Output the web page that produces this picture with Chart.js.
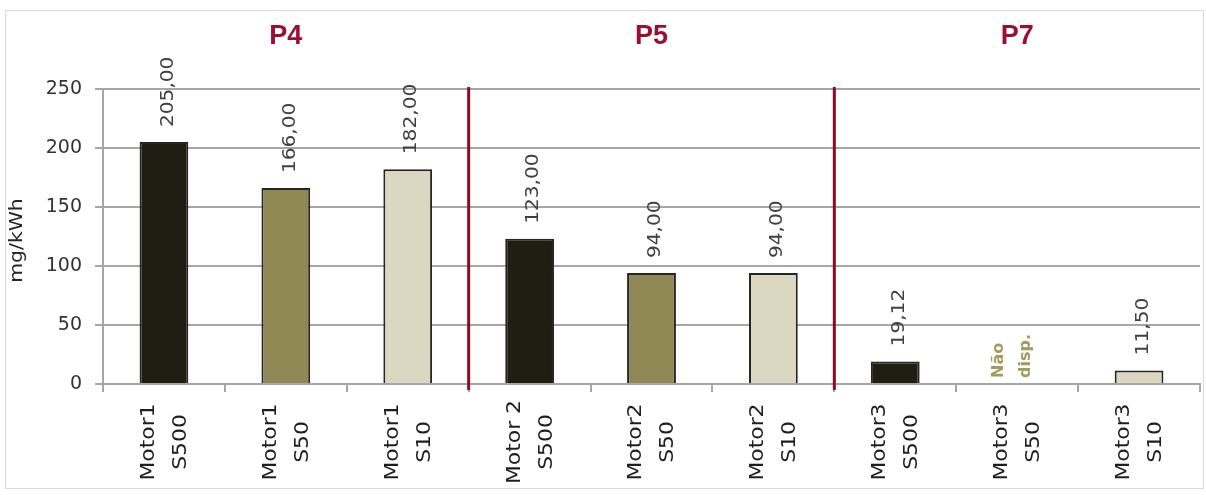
<!DOCTYPE html>
<html>
<head>
<meta charset="utf-8">
<script src="https://cdn.jsdelivr.net/npm/chart.js@4"></script>
<style>
  html, body { margin: 0; padding: 0; background: #fff; }
  #wrap { position: relative; width: 1206px; height: 495px; }
</style>
</head>
<body>
<div id="wrap"><canvas id="chart"></canvas></div>
<script>
// data
const categories = [
  ["Motor1", "S500"], ["Motor1", "S50"], ["Motor1", "S10"],
  ["Motor 2", "S500"], ["Motor2", "S50"], ["Motor2", "S10"],
  ["Motor3", "S500"], ["Motor3", "S50"], ["Motor3", "S10"]
];
const values = [205, 166, 182, 123, 94, 94, 19.12, null, 11.5];
const groups = ["P4", "P5", "P7"];
const yTicks = [0, 50, 100, 150, 200, 250];
const yTitle = "mg/kWh";
const missingLabel = ["Não", "disp."];

const barColors = ["#201e12", "#8f8754", "#dcd7c0"];
const colors = values.map((v, i) => barColors[i % 3]);

// rotated text, stretched a bit along its length like the original
function rotText(ctx, text, x, y, align, stretch) {
  ctx.save();
  ctx.translate(x, y);
  ctx.rotate(-Math.PI / 2);
  ctx.scale(stretch, 1);
  ctx.textAlign = align;
  ctx.textBaseline = "middle";
  ctx.fillText(text, 0, 0);
  ctx.restore();
}

const decor = {
  id: "decor",
  beforeDraw(chart) {
    const ctx = chart.ctx;
    ctx.save();
    ctx.strokeStyle = "#d9d9d9";
    ctx.lineWidth = 1;
    ctx.strokeRect(5.5, 10.5, 1198, 478);
    ctx.restore();
  },
  afterDatasetsDraw(chart) {
    const ctx = chart.ctx;
    const x = chart.scales.x;
    const y = chart.scales.y;
    const area = chart.chartArea;
    ctx.save();

    // red separators between groups
    ctx.strokeStyle = "#8c0c25";
    ctx.lineWidth = 3;
    [3, 6].forEach((i) => {
      const px = (x.getPixelForValue(i - 1) + x.getPixelForValue(i)) / 2;
      ctx.beginPath();
      ctx.moveTo(px, area.top - 2);
      ctx.lineTo(px, area.bottom + 6);
      ctx.stroke();
    });

    // group titles
    ctx.fillStyle = "#9a1030";
    ctx.font = "bold 27px 'Liberation Sans', sans-serif";
    ctx.textAlign = "center";
    ctx.textBaseline = "middle";
    groups.forEach((g, i) => {
      ctx.fillText(g, x.getPixelForValue(i * 3 + 1), 37);
    });

    // y axis title
    ctx.fillStyle = "#262626";
    ctx.font = "17px 'DejaVu Sans', sans-serif";
    rotText(ctx, yTitle, 18, (area.top + area.bottom) / 2 + 4, "center", 1.2);

    // category labels, two centred lines each
    ctx.fillStyle = "#1e1e1e";
    ctx.font = "19px 'DejaVu Sans', sans-serif";
    categories.forEach((lines, i) => {
      const px = x.getPixelForValue(i);
      rotText(ctx, lines[0], px - 15, area.bottom + 58, "center", 1.15);
      rotText(ctx, lines[1], px + 17, area.bottom + 58, "center", 1.15);
    });

    // value labels
    values.forEach((v, i) => {
      const px = x.getPixelForValue(i);
      if (v === null) {
        const py = y.getPixelForValue(0) - 6;
        ctx.fillStyle = "#a39a5c";
        ctx.font = "bold 16px 'DejaVu Sans', sans-serif";
        rotText(ctx, missingLabel[0], px - 18, py, "left", 1);
        rotText(ctx, missingLabel[1], px + 9, py, "left", 1);
      } else {
        const py = y.getPixelForValue(v) - 15;
        ctx.fillStyle = "#404040";
        ctx.font = "18px 'DejaVu Sans', sans-serif";
        rotText(ctx, v.toFixed(2).replace(".", ","), px + 4, py, "left", 1.12);
      }
    });
    ctx.restore();
  }
};

new Chart(document.getElementById("chart"), {
  type: "bar",
  data: {
    labels: categories,
    datasets: [
      {
        data: values,
        backgroundColor: colors,
        borderColor: "#262626",
        borderWidth: 2,
        barPercentage: 0.4,
        categoryPercentage: 1.0,
      },
    ],
  },
  options: {
    responsive: true,
    maintainAspectRatio: false,
    animation: false,
    layout: { padding: { left: 5, right: 6, top: 89, bottom: 0 } },
    plugins: {
      legend: { display: false },
      tooltip: { enabled: false },
    },
    scales: {
      x: {
        afterFit: (scale) => { scale.height = 111; },
        grid: {
          offset: true,
          drawOnChartArea: false,
          tickLength: 8,
          color: "#a6a6a6",
          lineWidth: 2,
        },
        border: { color: "#a6a6a6", width: 2 },
        ticks: { display: false },
      },
      y: {
        min: 0,
        max: 250,
        afterFit: (scale) => { scale.width = 98; },
        afterBuildTicks: (scale) => {
          scale.ticks = yTicks.map((v) => ({ value: v }));
        },
        grid: { color: "#a6a6a6", lineWidth: 2, tickLength: 8 },
        border: { color: "#a6a6a6", width: 2 },
        ticks: {
          padding: 13,
          color: "#333",
          font: { family: "'DejaVu Sans', sans-serif", size: 19 },
        },
      },
    },
  },
  plugins: [decor],
});
</script>
</body>
</html>
